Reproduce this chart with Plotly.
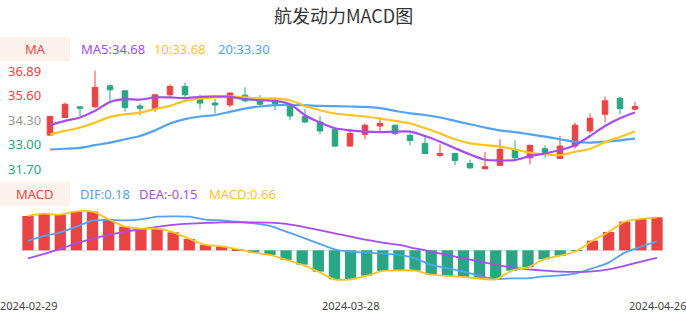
import plotly.graph_objects as go

W, H = 686, 320

dates = ["2024-02-29", "2024-03-01", "2024-03-04", "2024-03-05", "2024-03-06", "2024-03-07",
         "2024-03-08", "2024-03-11", "2024-03-12", "2024-03-13", "2024-03-14", "2024-03-15",
         "2024-03-18", "2024-03-19", "2024-03-20", "2024-03-21", "2024-03-22", "2024-03-25",
         "2024-03-26", "2024-03-27", "2024-03-28", "2024-03-29", "2024-04-01", "2024-04-02",
         "2024-04-03", "2024-04-08", "2024-04-09", "2024-04-10", "2024-04-11", "2024-04-12",
         "2024-04-15", "2024-04-16", "2024-04-17", "2024-04-18", "2024-04-19", "2024-04-22",
         "2024-04-23", "2024-04-24", "2024-04-25", "2024-04-26"]

open_ = [33.49, 34.42, 34.98, 34.98, 36.09, 35.83, 35.03, 34.86, 35.62, 36.06,
         35.39, 35.18, 35.08, 35.60, 35.30, 35.30, 35.12, 34.47, 34.18, 33.80,
         32.91, 33.53, 33.97, 34.01, 33.48, 33.05, 32.42, 32.52, 31.99, 31.71,
         31.89, 32.73, 32.29, 32.77, 32.26, 32.91, 33.71, 34.59, 35.44, 34.86]
high = [34.52, 35.21, 35.03, 36.89, 36.15, 35.85, 35.16, 35.65, 36.18, 36.27,
        35.62, 35.39, 35.75, 36.01, 35.60, 35.48, 35.14, 34.86, 34.50, 33.85,
        33.80, 34.11, 34.45, 34.05, 33.58, 33.44, 33.00, 32.55, 32.20, 32.59,
        33.27, 33.21, 32.98, 32.95, 33.44, 34.15, 34.63, 35.53, 35.51, 35.24]
low = [33.45, 34.40, 34.50, 34.91, 35.30, 34.73, 34.54, 34.73, 35.51, 35.51,
       34.86, 34.64, 34.95, 35.24, 35.00, 34.82, 34.29, 34.11, 33.53, 32.86,
       32.91, 33.27, 33.71, 33.48, 32.96, 32.50, 32.33, 31.89, 31.71, 31.71,
       31.89, 32.24, 31.94, 32.29, 32.26, 32.77, 33.58, 34.15, 34.59, 34.80]
close = [34.47, 35.12, 34.91, 36.01, 35.88, 34.95, 34.91, 35.62, 36.06, 35.62,
         35.18, 35.08, 35.71, 35.30, 35.12, 35.16, 34.50, 34.18, 33.71, 32.91,
         33.58, 34.01, 34.11, 33.58, 33.21, 32.52, 32.52, 32.15, 31.76, 31.82,
         32.73, 32.29, 32.95, 32.56, 32.91, 34.01, 34.38, 35.30, 34.89, 35.00]

ma5 = [34.02, 34.24, 34.42, 34.77, 35.24, 35.39, 35.36, 35.48, 35.48, 35.44,
       35.51, 35.53, 35.51, 35.39, 35.33, 35.30, 35.12, 34.54, 34.15, 33.85,
       33.74, 33.67, 33.65, 33.67, 33.67, 33.44, 33.14, 32.80, 32.47, 32.19,
       32.15, 32.17, 32.38, 32.52, 32.70, 32.96, 33.44, 33.97, 34.38, 34.68]
ma10 = [33.53, 33.71, 33.89, 34.15, 34.45, 34.59, 34.68, 34.86, 35.03, 35.30,
        35.42, 35.48, 35.53, 35.48, 35.42, 35.42, 35.33, 35.03, 34.80, 34.63,
        34.54, 34.47, 34.36, 34.24, 34.10, 33.85, 33.58, 33.27, 33.05, 32.96,
        32.88, 32.73, 32.56, 32.47, 32.43, 32.61, 32.77, 33.12, 33.39, 33.68]
ma20 = [32.73, 32.77, 32.82, 32.96, 33.09, 33.27, 33.44, 33.74, 34.10, 34.33,
        34.47, 34.55, 34.72, 34.89, 35.00, 35.07, 35.08, 35.07, 35.03, 35.02,
        35.00, 34.98, 34.91, 34.77, 34.64, 34.55, 34.42, 34.24, 34.06, 33.89,
        33.74, 33.65, 33.53, 33.41, 33.27, 33.14, 33.09, 33.14, 33.21, 33.30]

dif = [0.187, 0.287, 0.360, 0.473, 0.593, 0.607, 0.600, 0.620, 0.673, 0.680,
       0.673, 0.613, 0.600, 0.573, 0.540, 0.487, 0.373, 0.260, 0.140, 0.020,
       -0.027, -0.047, -0.067, -0.093, -0.160, -0.293, -0.360, -0.427, -0.513, -0.573,
       -0.560, -0.560, -0.520, -0.500, -0.460, -0.360, -0.247, -0.047, 0.073, 0.180]
dea = [-0.160, -0.073, 0.027, 0.140, 0.227, 0.307, 0.373, 0.420, 0.467, 0.507,
       0.533, 0.547, 0.560, 0.560, 0.560, 0.553, 0.527, 0.473, 0.407, 0.340,
       0.273, 0.207, 0.153, 0.107, 0.040, -0.027, -0.093, -0.160, -0.227, -0.287,
       -0.347, -0.380, -0.407, -0.427, -0.433, -0.420, -0.380, -0.313, -0.227, -0.150]
macd = [0.687, 0.733, 0.713, 0.780, 0.773, 0.620, 0.473, 0.433, 0.433, 0.360,
        0.227, 0.107, 0.080, 0.020, -0.047, -0.093, -0.193, -0.287, -0.427, -0.580,
        -0.580, -0.507, -0.413, -0.400, -0.407, -0.487, -0.513, -0.533, -0.567, -0.580,
        -0.407, -0.340, -0.180, -0.107, -0.013, 0.193, 0.367, 0.573, 0.627, 0.660]

price_ticks = [36.89, 35.60, 34.30, 33.00, 31.70]
price_tick_labels = ["36.89", "35.60", "34.30", "33.00", "31.70"]
date_ticks = ["2024-02-29", "2024-03-28", "2024-04-26"]

RED = "#ea4343"
GREEN = "#29a683"
C_MA5 = "#a64cf2"
C_MA10 = "#ffc31f"
C_MA20 = "#52a3f5"
FONT = "Noto Sans"


def px_x(p):
    return p / W


def px_y(p):
    return 1 - p / H


fig = go.Figure()

fig.add_trace(go.Candlestick(
    x=dates, open=open_, high=high, low=low, close=close,
    increasing=dict(line=dict(color=RED, width=1), fillcolor=RED),
    decreasing=dict(line=dict(color=GREEN, width=1), fillcolor=GREEN),
    whiskerwidth=0, xaxis="x", yaxis="y", hoverinfo="skip", showlegend=False))

for vals, col in [(ma20, C_MA20), (ma10, C_MA10), (ma5, C_MA5)]:
    fig.add_trace(go.Scatter(x=dates, y=vals, mode="lines",
                             line=dict(color=col, width=2.2, shape="spline", smoothing=0.8),
                             xaxis="x", yaxis="y", hoverinfo="skip", showlegend=False))

bar_colors = [RED if v >= 0 else GREEN for v in macd]
fig.add_trace(go.Bar(x=dates, y=macd, marker=dict(color=bar_colors, line=dict(width=0)),
                     xaxis="x2", yaxis="y2", hoverinfo="skip", showlegend=False))
for vals, col in [(dif, C_MA20), (dea, C_MA5), (macd, C_MA10)]:
    fig.add_trace(go.Scatter(x=dates, y=vals, mode="lines",
                             line=dict(color=col, width=1.8, shape="spline", smoothing=0.8),
                             xaxis="x2", yaxis="y2", hoverinfo="skip", showlegend=False))

annotations = []
# title
annotations.append(dict(text="航发动力MACD图", x=0.5, y=px_y(15), xref="paper", yref="paper",
                        xanchor="center", yanchor="middle", showarrow=False,
                        font=dict(family="Noto Sans CJK SC", size=18, color="#333333")))
# price tick labels
tick_colors = [RED, RED, "#999999", GREEN, GREEN]
for v, t, c in zip(price_ticks, price_tick_labels, tick_colors):
    annotations.append(dict(text=t, x=px_x(43), y=v, xref="paper", yref="y",
                            xanchor="right", yanchor="middle", showarrow=False,
                            font=dict(family=FONT, size=13, color=c)))
# date labels
for d in date_ticks:
    annotations.append(dict(text=d, x=d, y=px_y(305), xref="x2", yref="paper",
                            xanchor="center", yanchor="middle", showarrow=False,
                            font=dict(family=FONT, size=11, color="#444444")))

# legend rows
def legend_row(ycenter, label, items):
    annotations.append(dict(text=label, x=px_x(35), y=px_y(ycenter), xref="paper", yref="paper",
                            xanchor="center", yanchor="middle", showarrow=False,
                            font=dict(family=FONT, size=13, color="#f04848")))
    for xpos, txt, col in items:
        annotations.append(dict(text=txt, x=px_x(xpos), y=px_y(ycenter), xref="paper", yref="paper",
                                xanchor="left", yanchor="middle", showarrow=False,
                                font=dict(family=FONT, size=13, color=col)))

legend_row(49, "MA", [(79, "MA5:%.2f" % ma5[-1], C_MA5),
                      (152, "10:%.2f" % ma10[-1], C_MA10),
                      (216, "20:%.2f" % ma20[-1], C_MA20)])
legend_row(194, "MACD", [(78, "DIF:%.2f" % dif[-1], C_MA20),
                         (137, "DEA:%.2f" % dea[-1], C_MA5),
                         (207, "MACD:%.2f" % macd[-1], C_MA10)])

shapes = [
    dict(type="rect", xref="paper", yref="paper", x0=0, x1=px_x(70), y0=px_y(61), y1=px_y(37),
         fillcolor="#fdf1ec", line=dict(width=0), layer="below"),
    dict(type="rect", xref="paper", yref="paper", x0=0, x1=px_x(70), y0=px_y(206), y1=px_y(182),
         fillcolor="#fdf1ec", line=dict(width=0), layer="below"),
]

fig.update_layout(
    width=W, height=H, autosize=False,
    margin=dict(l=0, r=0, t=0, b=0, pad=0),
    paper_bgcolor="white", plot_bgcolor="rgba(0,0,0,0)",
    showlegend=False, boxgap=0.47, bargap=0.3,
    annotations=annotations, shapes=shapes,
    xaxis=dict(type="category", domain=[px_x(42.5), px_x(642.5)], range=[-0.5, len(dates) - 0.5],
               showticklabels=False, showgrid=False, zeroline=False, showline=False,
               rangeslider=dict(visible=False), fixedrange=True),
    yaxis=dict(domain=[px_y(178), px_y(62)], range=[31.225, 37.349], showticklabels=False,
               showgrid=False, zeroline=False, showline=False, fixedrange=True),
    xaxis2=dict(type="category", domain=[px_x(19.94), px_x(665.06)], range=[-0.5, len(dates) - 0.5],
                anchor="y2", showticklabels=False, showgrid=False, zeroline=False, showline=False,
                fixedrange=True),
    yaxis2=dict(domain=[px_y(290), px_y(205)], range=[-0.794, 0.906], anchor="x2",
                showticklabels=False, showgrid=False, zeroline=True, zerolinecolor="#dddddd",
                zerolinewidth=1, showline=False, fixedrange=True),
)

fig.write_html("out.html", config={"displayModeBar": False})
